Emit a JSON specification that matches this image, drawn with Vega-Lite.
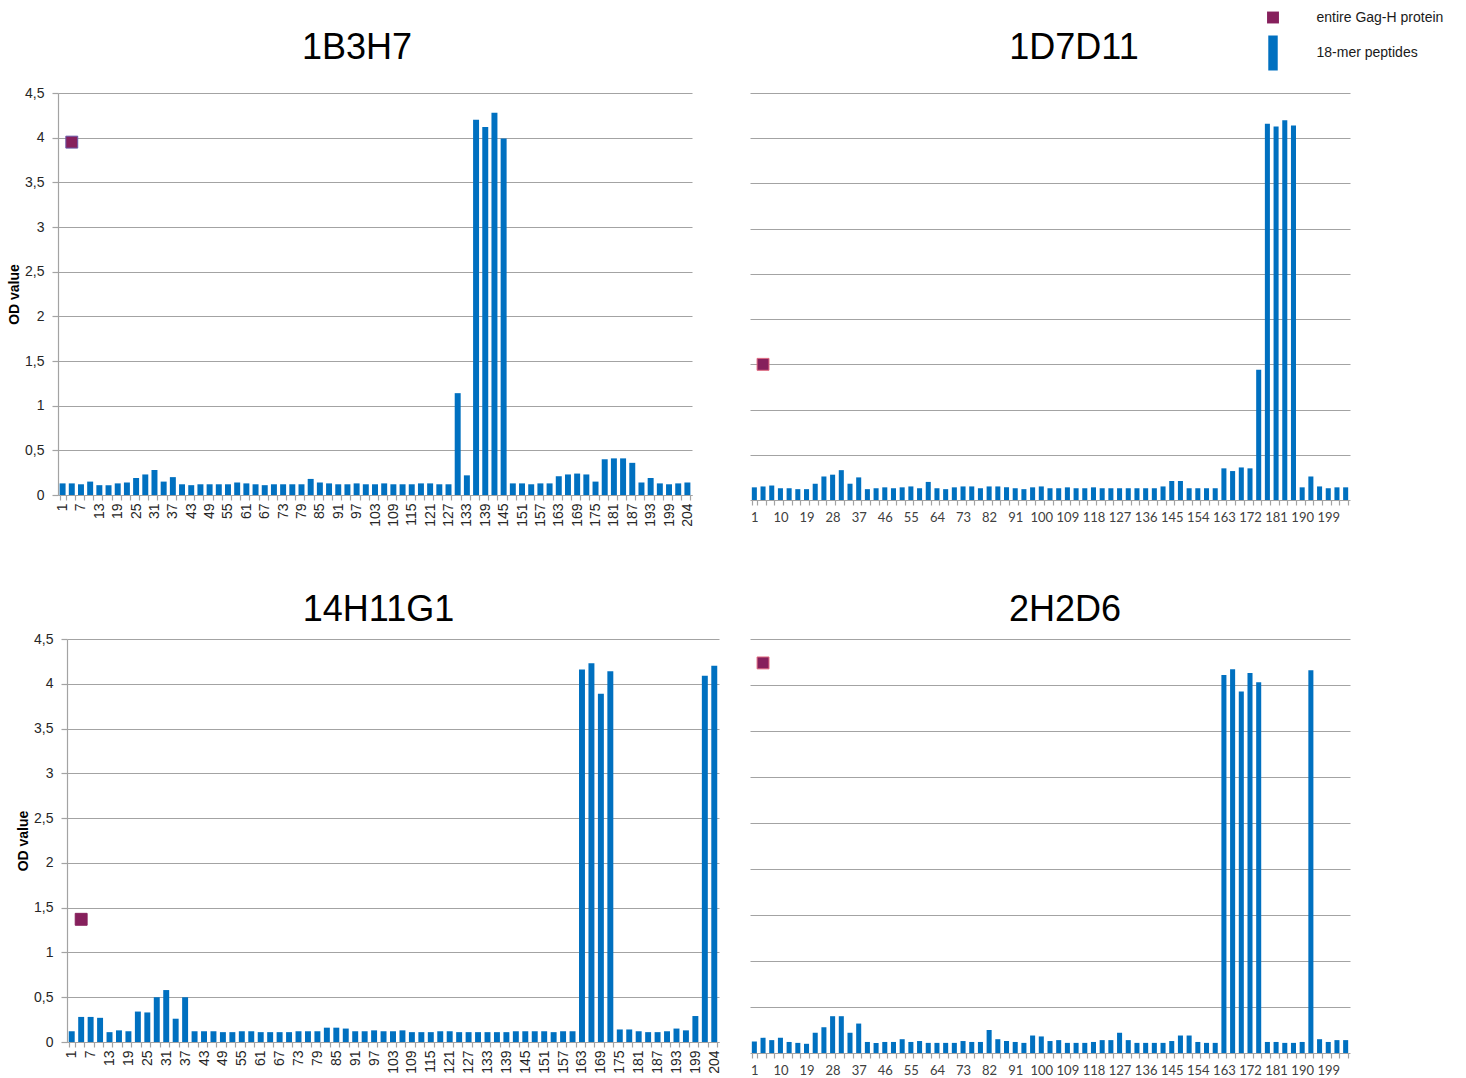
{
  "$schema": "https://vega.github.io/schema/vega-lite/v6.json",
  "background": "white",
  "padding": {"left": 7, "top": 0, "right": 0, "bottom": 0},
  "config": {
    "font": "Liberation Sans",
    "view": {"stroke": null},
    "axis": {"gridColor": "#a3a3a3", "gridWidth": 1.2, "domainColor": "#a3a3a3", "domainWidth": 1.2, "tickColor": "#a3a3a3", "tickWidth": 1.2, "labelColor": "#262626", "labelFont": "Liberation Sans"},
    "title": {"font": "Liberation Sans", "fontSize": 36, "fontWeight": "normal", "color": "#000000"},
    "legend": {"orient": "none", "legendX": 1197.5, "legendY": -93, "title": null, "labelFontSize": 14, "labelColor": "#1a1a1a", "labelOffset": 26, "rowPadding": 10.5, "symbolSize": 1225, "padding": 0, "symbolStrokeWidth": 0, "symbolOpacity": 1}
  },
  "datasets": {
    "pep1B3H7": [
      {"peptide":1,"od":0.13,"series":"18-mer peptides"},{"peptide":4,"od":0.13,"series":"18-mer peptides"},{"peptide":7,"od":0.12,"series":"18-mer peptides"},{"peptide":10,"od":0.15,"series":"18-mer peptides"},{"peptide":13,"od":0.11,"series":"18-mer peptides"},{"peptide":16,"od":0.11,"series":"18-mer peptides"},{"peptide":19,"od":0.13,"series":"18-mer peptides"},{"peptide":22,"od":0.14,"series":"18-mer peptides"},{"peptide":25,"od":0.19,"series":"18-mer peptides"},{"peptide":28,"od":0.23,"series":"18-mer peptides"},
      {"peptide":31,"od":0.28,"series":"18-mer peptides"},{"peptide":34,"od":0.15,"series":"18-mer peptides"},{"peptide":37,"od":0.20,"series":"18-mer peptides"},{"peptide":40,"od":0.12,"series":"18-mer peptides"},{"peptide":43,"od":0.11,"series":"18-mer peptides"},{"peptide":46,"od":0.12,"series":"18-mer peptides"},{"peptide":49,"od":0.12,"series":"18-mer peptides"},{"peptide":52,"od":0.12,"series":"18-mer peptides"},{"peptide":55,"od":0.12,"series":"18-mer peptides"},{"peptide":58,"od":0.14,"series":"18-mer peptides"},
      {"peptide":61,"od":0.13,"series":"18-mer peptides"},{"peptide":64,"od":0.12,"series":"18-mer peptides"},{"peptide":67,"od":0.11,"series":"18-mer peptides"},{"peptide":70,"od":0.12,"series":"18-mer peptides"},{"peptide":73,"od":0.12,"series":"18-mer peptides"},{"peptide":76,"od":0.12,"series":"18-mer peptides"},{"peptide":79,"od":0.12,"series":"18-mer peptides"},{"peptide":82,"od":0.18,"series":"18-mer peptides"},{"peptide":85,"od":0.14,"series":"18-mer peptides"},{"peptide":88,"od":0.13,"series":"18-mer peptides"},
      {"peptide":91,"od":0.12,"series":"18-mer peptides"},{"peptide":94,"od":0.12,"series":"18-mer peptides"},{"peptide":97,"od":0.13,"series":"18-mer peptides"},{"peptide":100,"od":0.12,"series":"18-mer peptides"},{"peptide":103,"od":0.12,"series":"18-mer peptides"},{"peptide":106,"od":0.13,"series":"18-mer peptides"},{"peptide":109,"od":0.12,"series":"18-mer peptides"},{"peptide":112,"od":0.12,"series":"18-mer peptides"},{"peptide":115,"od":0.12,"series":"18-mer peptides"},{"peptide":118,"od":0.13,"series":"18-mer peptides"},
      {"peptide":121,"od":0.13,"series":"18-mer peptides"},{"peptide":124,"od":0.12,"series":"18-mer peptides"},{"peptide":127,"od":0.12,"series":"18-mer peptides"},{"peptide":130,"od":1.14,"series":"18-mer peptides"},{"peptide":133,"od":0.22,"series":"18-mer peptides"},{"peptide":136,"od":4.20,"series":"18-mer peptides"},{"peptide":139,"od":4.12,"series":"18-mer peptides"},{"peptide":142,"od":4.28,"series":"18-mer peptides"},{"peptide":145,"od":3.99,"series":"18-mer peptides"},{"peptide":148,"od":0.13,"series":"18-mer peptides"},
      {"peptide":151,"od":0.13,"series":"18-mer peptides"},{"peptide":154,"od":0.12,"series":"18-mer peptides"},{"peptide":157,"od":0.13,"series":"18-mer peptides"},{"peptide":160,"od":0.13,"series":"18-mer peptides"},{"peptide":163,"od":0.21,"series":"18-mer peptides"},{"peptide":166,"od":0.23,"series":"18-mer peptides"},{"peptide":169,"od":0.24,"series":"18-mer peptides"},{"peptide":172,"od":0.23,"series":"18-mer peptides"},{"peptide":175,"od":0.15,"series":"18-mer peptides"},{"peptide":178,"od":0.40,"series":"18-mer peptides"},
      {"peptide":181,"od":0.41,"series":"18-mer peptides"},{"peptide":184,"od":0.41,"series":"18-mer peptides"},{"peptide":187,"od":0.36,"series":"18-mer peptides"},{"peptide":190,"od":0.14,"series":"18-mer peptides"},{"peptide":193,"od":0.19,"series":"18-mer peptides"},{"peptide":196,"od":0.13,"series":"18-mer peptides"},{"peptide":199,"od":0.12,"series":"18-mer peptides"},{"peptide":202,"od":0.13,"series":"18-mer peptides"},{"peptide":204,"od":0.14,"series":"18-mer peptides"}
    ],
    "pep1D7D11": [
      {"peptide":1,"od":0.14,"series":"18-mer peptides"},{"peptide":4,"od":0.15,"series":"18-mer peptides"},{"peptide":7,"od":0.16,"series":"18-mer peptides"},{"peptide":10,"od":0.13,"series":"18-mer peptides"},{"peptide":13,"od":0.13,"series":"18-mer peptides"},{"peptide":16,"od":0.12,"series":"18-mer peptides"},{"peptide":19,"od":0.12,"series":"18-mer peptides"},{"peptide":22,"od":0.18,"series":"18-mer peptides"},{"peptide":25,"od":0.26,"series":"18-mer peptides"},{"peptide":28,"od":0.28,"series":"18-mer peptides"},
      {"peptide":31,"od":0.33,"series":"18-mer peptides"},{"peptide":34,"od":0.18,"series":"18-mer peptides"},{"peptide":37,"od":0.25,"series":"18-mer peptides"},{"peptide":40,"od":0.12,"series":"18-mer peptides"},{"peptide":43,"od":0.13,"series":"18-mer peptides"},{"peptide":46,"od":0.14,"series":"18-mer peptides"},{"peptide":49,"od":0.13,"series":"18-mer peptides"},{"peptide":52,"od":0.14,"series":"18-mer peptides"},{"peptide":55,"od":0.15,"series":"18-mer peptides"},{"peptide":58,"od":0.13,"series":"18-mer peptides"},
      {"peptide":61,"od":0.20,"series":"18-mer peptides"},{"peptide":64,"od":0.13,"series":"18-mer peptides"},{"peptide":67,"od":0.12,"series":"18-mer peptides"},{"peptide":70,"od":0.14,"series":"18-mer peptides"},{"peptide":73,"od":0.15,"series":"18-mer peptides"},{"peptide":76,"od":0.15,"series":"18-mer peptides"},{"peptide":79,"od":0.13,"series":"18-mer peptides"},{"peptide":82,"od":0.15,"series":"18-mer peptides"},{"peptide":85,"od":0.15,"series":"18-mer peptides"},{"peptide":88,"od":0.14,"series":"18-mer peptides"},
      {"peptide":91,"od":0.13,"series":"18-mer peptides"},{"peptide":94,"od":0.12,"series":"18-mer peptides"},{"peptide":97,"od":0.14,"series":"18-mer peptides"},{"peptide":100,"od":0.15,"series":"18-mer peptides"},{"peptide":103,"od":0.13,"series":"18-mer peptides"},{"peptide":106,"od":0.13,"series":"18-mer peptides"},{"peptide":109,"od":0.14,"series":"18-mer peptides"},{"peptide":112,"od":0.13,"series":"18-mer peptides"},{"peptide":115,"od":0.13,"series":"18-mer peptides"},{"peptide":118,"od":0.14,"series":"18-mer peptides"},
      {"peptide":121,"od":0.13,"series":"18-mer peptides"},{"peptide":124,"od":0.13,"series":"18-mer peptides"},{"peptide":127,"od":0.13,"series":"18-mer peptides"},{"peptide":130,"od":0.13,"series":"18-mer peptides"},{"peptide":133,"od":0.13,"series":"18-mer peptides"},{"peptide":136,"od":0.13,"series":"18-mer peptides"},{"peptide":139,"od":0.13,"series":"18-mer peptides"},{"peptide":142,"od":0.15,"series":"18-mer peptides"},{"peptide":145,"od":0.21,"series":"18-mer peptides"},{"peptide":148,"od":0.21,"series":"18-mer peptides"},
      {"peptide":151,"od":0.13,"series":"18-mer peptides"},{"peptide":154,"od":0.13,"series":"18-mer peptides"},{"peptide":157,"od":0.13,"series":"18-mer peptides"},{"peptide":160,"od":0.13,"series":"18-mer peptides"},{"peptide":163,"od":0.35,"series":"18-mer peptides"},{"peptide":166,"od":0.32,"series":"18-mer peptides"},{"peptide":169,"od":0.36,"series":"18-mer peptides"},{"peptide":172,"od":0.35,"series":"18-mer peptides"},{"peptide":175,"od":1.44,"series":"18-mer peptides"},{"peptide":178,"od":4.16,"series":"18-mer peptides"},
      {"peptide":181,"od":4.13,"series":"18-mer peptides"},{"peptide":184,"od":4.20,"series":"18-mer peptides"},{"peptide":187,"od":4.14,"series":"18-mer peptides"},{"peptide":190,"od":0.14,"series":"18-mer peptides"},{"peptide":193,"od":0.26,"series":"18-mer peptides"},{"peptide":196,"od":0.15,"series":"18-mer peptides"},{"peptide":199,"od":0.13,"series":"18-mer peptides"},{"peptide":202,"od":0.14,"series":"18-mer peptides"},{"peptide":204,"od":0.14,"series":"18-mer peptides"}
    ],
    "pep14H11G1": [
      {"peptide":1,"od":0.12,"series":"18-mer peptides"},{"peptide":4,"od":0.28,"series":"18-mer peptides"},{"peptide":7,"od":0.28,"series":"18-mer peptides"},{"peptide":10,"od":0.27,"series":"18-mer peptides"},{"peptide":13,"od":0.11,"series":"18-mer peptides"},{"peptide":16,"od":0.13,"series":"18-mer peptides"},{"peptide":19,"od":0.12,"series":"18-mer peptides"},{"peptide":22,"od":0.34,"series":"18-mer peptides"},{"peptide":25,"od":0.33,"series":"18-mer peptides"},{"peptide":28,"od":0.50,"series":"18-mer peptides"},
      {"peptide":31,"od":0.58,"series":"18-mer peptides"},{"peptide":34,"od":0.26,"series":"18-mer peptides"},{"peptide":37,"od":0.50,"series":"18-mer peptides"},{"peptide":40,"od":0.12,"series":"18-mer peptides"},{"peptide":43,"od":0.12,"series":"18-mer peptides"},{"peptide":46,"od":0.12,"series":"18-mer peptides"},{"peptide":49,"od":0.11,"series":"18-mer peptides"},{"peptide":52,"od":0.11,"series":"18-mer peptides"},{"peptide":55,"od":0.12,"series":"18-mer peptides"},{"peptide":58,"od":0.12,"series":"18-mer peptides"},
      {"peptide":61,"od":0.11,"series":"18-mer peptides"},{"peptide":64,"od":0.11,"series":"18-mer peptides"},{"peptide":67,"od":0.11,"series":"18-mer peptides"},{"peptide":70,"od":0.11,"series":"18-mer peptides"},{"peptide":73,"od":0.12,"series":"18-mer peptides"},{"peptide":76,"od":0.12,"series":"18-mer peptides"},{"peptide":79,"od":0.12,"series":"18-mer peptides"},{"peptide":82,"od":0.16,"series":"18-mer peptides"},{"peptide":85,"od":0.16,"series":"18-mer peptides"},{"peptide":88,"od":0.15,"series":"18-mer peptides"},
      {"peptide":91,"od":0.12,"series":"18-mer peptides"},{"peptide":94,"od":0.12,"series":"18-mer peptides"},{"peptide":97,"od":0.13,"series":"18-mer peptides"},{"peptide":100,"od":0.12,"series":"18-mer peptides"},{"peptide":103,"od":0.12,"series":"18-mer peptides"},{"peptide":106,"od":0.13,"series":"18-mer peptides"},{"peptide":109,"od":0.11,"series":"18-mer peptides"},{"peptide":112,"od":0.11,"series":"18-mer peptides"},{"peptide":115,"od":0.11,"series":"18-mer peptides"},{"peptide":118,"od":0.12,"series":"18-mer peptides"},
      {"peptide":121,"od":0.12,"series":"18-mer peptides"},{"peptide":124,"od":0.11,"series":"18-mer peptides"},{"peptide":127,"od":0.11,"series":"18-mer peptides"},{"peptide":130,"od":0.11,"series":"18-mer peptides"},{"peptide":133,"od":0.11,"series":"18-mer peptides"},{"peptide":136,"od":0.11,"series":"18-mer peptides"},{"peptide":139,"od":0.11,"series":"18-mer peptides"},{"peptide":142,"od":0.12,"series":"18-mer peptides"},{"peptide":145,"od":0.12,"series":"18-mer peptides"},{"peptide":148,"od":0.12,"series":"18-mer peptides"},
      {"peptide":151,"od":0.12,"series":"18-mer peptides"},{"peptide":154,"od":0.11,"series":"18-mer peptides"},{"peptide":157,"od":0.12,"series":"18-mer peptides"},{"peptide":160,"od":0.12,"series":"18-mer peptides"},{"peptide":163,"od":4.16,"series":"18-mer peptides"},{"peptide":166,"od":4.23,"series":"18-mer peptides"},{"peptide":169,"od":3.89,"series":"18-mer peptides"},{"peptide":172,"od":4.14,"series":"18-mer peptides"},{"peptide":175,"od":0.14,"series":"18-mer peptides"},{"peptide":178,"od":0.14,"series":"18-mer peptides"},
      {"peptide":181,"od":0.12,"series":"18-mer peptides"},{"peptide":184,"od":0.11,"series":"18-mer peptides"},{"peptide":187,"od":0.11,"series":"18-mer peptides"},{"peptide":190,"od":0.12,"series":"18-mer peptides"},{"peptide":193,"od":0.15,"series":"18-mer peptides"},{"peptide":196,"od":0.13,"series":"18-mer peptides"},{"peptide":199,"od":0.29,"series":"18-mer peptides"},{"peptide":202,"od":4.09,"series":"18-mer peptides"},{"peptide":204,"od":4.20,"series":"18-mer peptides"}
    ],
    "pep2H2D6": [
      {"peptide":1,"od":0.125,"series":"18-mer peptides"},{"peptide":4,"od":0.165,"series":"18-mer peptides"},{"peptide":7,"od":0.14,"series":"18-mer peptides"},{"peptide":10,"od":0.165,"series":"18-mer peptides"},{"peptide":13,"od":0.12,"series":"18-mer peptides"},{"peptide":16,"od":0.11,"series":"18-mer peptides"},{"peptide":19,"od":0.10,"series":"18-mer peptides"},{"peptide":22,"od":0.22,"series":"18-mer peptides"},{"peptide":25,"od":0.28,"series":"18-mer peptides"},{"peptide":28,"od":0.40,"series":"18-mer peptides"},
      {"peptide":31,"od":0.40,"series":"18-mer peptides"},{"peptide":34,"od":0.22,"series":"18-mer peptides"},{"peptide":37,"od":0.32,"series":"18-mer peptides"},{"peptide":40,"od":0.12,"series":"18-mer peptides"},{"peptide":43,"od":0.11,"series":"18-mer peptides"},{"peptide":46,"od":0.12,"series":"18-mer peptides"},{"peptide":49,"od":0.12,"series":"18-mer peptides"},{"peptide":52,"od":0.15,"series":"18-mer peptides"},{"peptide":55,"od":0.12,"series":"18-mer peptides"},{"peptide":58,"od":0.13,"series":"18-mer peptides"},
      {"peptide":61,"od":0.11,"series":"18-mer peptides"},{"peptide":64,"od":0.11,"series":"18-mer peptides"},{"peptide":67,"od":0.11,"series":"18-mer peptides"},{"peptide":70,"od":0.11,"series":"18-mer peptides"},{"peptide":73,"od":0.13,"series":"18-mer peptides"},{"peptide":76,"od":0.12,"series":"18-mer peptides"},{"peptide":79,"od":0.12,"series":"18-mer peptides"},{"peptide":82,"od":0.25,"series":"18-mer peptides"},{"peptide":85,"od":0.15,"series":"18-mer peptides"},{"peptide":88,"od":0.13,"series":"18-mer peptides"},
      {"peptide":91,"od":0.12,"series":"18-mer peptides"},{"peptide":94,"od":0.11,"series":"18-mer peptides"},{"peptide":97,"od":0.19,"series":"18-mer peptides"},{"peptide":100,"od":0.18,"series":"18-mer peptides"},{"peptide":103,"od":0.13,"series":"18-mer peptides"},{"peptide":106,"od":0.14,"series":"18-mer peptides"},{"peptide":109,"od":0.11,"series":"18-mer peptides"},{"peptide":112,"od":0.11,"series":"18-mer peptides"},{"peptide":115,"od":0.11,"series":"18-mer peptides"},{"peptide":118,"od":0.12,"series":"18-mer peptides"},
      {"peptide":121,"od":0.14,"series":"18-mer peptides"},{"peptide":124,"od":0.14,"series":"18-mer peptides"},{"peptide":127,"od":0.22,"series":"18-mer peptides"},{"peptide":130,"od":0.14,"series":"18-mer peptides"},{"peptide":133,"od":0.11,"series":"18-mer peptides"},{"peptide":136,"od":0.11,"series":"18-mer peptides"},{"peptide":139,"od":0.11,"series":"18-mer peptides"},{"peptide":142,"od":0.11,"series":"18-mer peptides"},{"peptide":145,"od":0.13,"series":"18-mer peptides"},{"peptide":148,"od":0.19,"series":"18-mer peptides"},
      {"peptide":151,"od":0.19,"series":"18-mer peptides"},{"peptide":154,"od":0.12,"series":"18-mer peptides"},{"peptide":157,"od":0.11,"series":"18-mer peptides"},{"peptide":160,"od":0.11,"series":"18-mer peptides"},{"peptide":163,"od":4.11,"series":"18-mer peptides"},{"peptide":166,"od":4.17,"series":"18-mer peptides"},{"peptide":169,"od":3.93,"series":"18-mer peptides"},{"peptide":172,"od":4.13,"series":"18-mer peptides"},{"peptide":175,"od":4.03,"series":"18-mer peptides"},{"peptide":178,"od":0.12,"series":"18-mer peptides"},
      {"peptide":181,"od":0.12,"series":"18-mer peptides"},{"peptide":184,"od":0.11,"series":"18-mer peptides"},{"peptide":187,"od":0.11,"series":"18-mer peptides"},{"peptide":190,"od":0.12,"series":"18-mer peptides"},{"peptide":193,"od":4.16,"series":"18-mer peptides"},{"peptide":196,"od":0.15,"series":"18-mer peptides"},{"peptide":199,"od":0.12,"series":"18-mer peptides"},{"peptide":202,"od":0.14,"series":"18-mer peptides"},{"peptide":204,"od":0.14,"series":"18-mer peptides"}
    ],
    "prot1B3H7": [{"peptide":4,"od":3.95,"series":"entire Gag-H protein"}],
    "prot1D7D11": [{"peptide":4,"od":1.5,"series":"entire Gag-H protein"}],
    "prot14H11G1": [{"peptide":4,"od":1.37,"series":"entire Gag-H protein"}],
    "prot2H2D6": [{"peptide":4,"od":4.24,"series":"entire Gag-H protein"}]
  },
  "spacing": 65,
  "vconcat": [
    {
      "spacing": 55,
      "hconcat": [
        {
          "width": 634, "height": 402,
          "title": {"text": "1B3H7", "dx": -18, "offset": 19},
          "encoding": {
            "x": {"field": "peptide", "type": "ordinal", "scale": {"paddingInner": 0.35, "paddingOuter": 0.175},
                  "axis": {"title": null, "labelAngle": 270, "labelExpr": "(datum.value - 1) % 6 == 0 || datum.value == 204 ? datum.label : ''", "labelOverlap": false, "labelFontSize": 14, "labelPadding": 3, "tickBand": "extent", "tickSize": 5}},
            "y": {"field": "od", "type": "quantitative", "scale": {"domain": [0, 4.5], "nice": false},
                  "axis": {"title": "OD value", "titleFontSize": 14, "titleFontWeight": "bold", "titleColor": "#000000", "titlePadding": 3, "values": [0, 0.5, 1, 1.5, 2, 2.5, 3, 3.5, 4, 4.5], "labelExpr": "replace(format(datum.value, '~g'), '.', ',')", "labelFontSize": 14, "labelPadding": 8, "tickSize": 6, "grid": true}}
          },
          "layer": [
            {"data": {"name": "pep1B3H7"}, "mark": {"type": "bar"},
             "encoding": {"color": {"field": "series", "type": "nominal", "scale": {"domain": ["entire Gag-H protein", "18-mer peptides"], "range": ["#86205C", "#0070C0"]}}}},
            {"data": {"name": "prot1B3H7"}, "mark": {"type": "point", "filled": true, "size": 1225, "opacity": 1, "stroke": "#6a5aa8", "strokeWidth": 1},
             "encoding": {"color": {"field": "series", "type": "nominal", "scale": {"domain": ["entire Gag-H protein", "18-mer peptides"], "range": ["#86205C", "#0070C0"]}},
                          "shape": {"field": "series", "type": "nominal", "scale": {"domain": ["entire Gag-H protein", "18-mer peptides"], "range": ["M-0.34,-0.34H0.34V0.34H-0.34Z", "M-0.27,-1H0.27V1H-0.27Z"]}}}}
          ]
        },
        {
          "width": 600, "height": 407,
          "title": {"text": "1D7D11", "dx": 24, "offset": 26},
          "encoding": {
            "x": {"field": "peptide", "type": "ordinal", "scale": {"paddingInner": 0.42, "paddingOuter": 0.21},
                  "axis": {"title": null, "labelAngle": 0, "labelExpr": "(datum.value - 1) % 9 == 0 ? datum.label : ''", "labelOverlap": false, "labelFont": "Lato", "labelFontSize": 13, "labelColor": "#404040", "labelPadding": 6, "tickBand": "extent", "tickSize": 5}},
            "y": {"field": "od", "type": "quantitative", "scale": {"domain": [0, 4.5], "nice": false},
                  "axis": {"title": null, "labels": false, "ticks": false, "domain": false, "grid": true, "values": [0.5, 1, 1.5, 2, 2.5, 3, 3.5, 4, 4.5]}}
          },
          "layer": [
            {"data": {"name": "pep1D7D11"}, "mark": {"type": "bar"},
             "encoding": {"color": {"field": "series", "type": "nominal", "scale": {"domain": ["entire Gag-H protein", "18-mer peptides"], "range": ["#86205C", "#0070C0"]}}}},
            {"data": {"name": "prot1D7D11"}, "mark": {"type": "point", "filled": true, "size": 1225, "opacity": 1, "stroke": "#e06a80", "strokeWidth": 1},
             "encoding": {"color": {"field": "series", "type": "nominal", "scale": {"domain": ["entire Gag-H protein", "18-mer peptides"], "range": ["#86205C", "#0070C0"]}},
                          "shape": {"field": "series", "type": "nominal", "scale": {"domain": ["entire Gag-H protein", "18-mer peptides"], "range": ["M-0.34,-0.34H0.34V0.34H-0.34Z", "M-0.27,-1H0.27V1H-0.27Z"]}}}}
          ]
        }
      ]
    },
    {
      "spacing": 28,
      "hconcat": [
        {
          "width": 661, "height": 403,
          "title": {"text": "14H11G1", "dx": -10, "offset": 3},
          "encoding": {
            "x": {"field": "peptide", "type": "ordinal", "scale": {"range": [9, 661], "paddingInner": 0.37, "paddingOuter": 0.185},
                  "axis": {"title": null, "labelAngle": 270, "labelExpr": "(datum.value - 1) % 6 == 0 || datum.value == 204 ? datum.label : ''", "labelOverlap": false, "labelFontSize": 14, "labelPadding": 3, "tickBand": "extent", "tickSize": 5}},
            "y": {"field": "od", "type": "quantitative", "scale": {"domain": [0, 4.5], "nice": false},
                  "axis": {"offset": -9, "title": "OD value", "titleFontSize": 14, "titleFontWeight": "bold", "titleColor": "#000000", "titlePadding": 3, "values": [0, 0.5, 1, 1.5, 2, 2.5, 3, 3.5, 4, 4.5], "labelExpr": "replace(format(datum.value, '~g'), '.', ',')", "labelFontSize": 14, "labelPadding": 8, "tickSize": 6, "grid": true}}
          },
          "layer": [
            {"data": {"name": "pep14H11G1"}, "mark": {"type": "bar"},
             "encoding": {"color": {"field": "series", "type": "nominal", "scale": {"domain": ["entire Gag-H protein", "18-mer peptides"], "range": ["#86205C", "#0070C0"]}}}},
            {"data": {"name": "prot14H11G1"}, "mark": {"type": "point", "filled": true, "size": 1225, "opacity": 1, "stroke": "#86205C", "strokeWidth": 1},
             "encoding": {"color": {"field": "series", "type": "nominal", "scale": {"domain": ["entire Gag-H protein", "18-mer peptides"], "range": ["#86205C", "#0070C0"]}},
                          "shape": {"field": "series", "type": "nominal", "scale": {"domain": ["entire Gag-H protein", "18-mer peptides"], "range": ["M-0.34,-0.34H0.34V0.34H-0.34Z", "M-0.27,-1H0.27V1H-0.27Z"]}}}}
          ]
        },
        {
          "width": 600, "height": 414,
          "title": {"text": "2H2D6", "dx": 15, "offset": 10},
          "encoding": {
            "x": {"field": "peptide", "type": "ordinal", "scale": {"paddingInner": 0.42, "paddingOuter": 0.21},
                  "axis": {"title": null, "labelAngle": 0, "labelExpr": "(datum.value - 1) % 9 == 0 ? datum.label : ''", "labelOverlap": false, "labelFont": "Lato", "labelFontSize": 13, "labelColor": "#404040", "labelPadding": 6, "tickBand": "extent", "tickSize": 5}},
            "y": {"field": "od", "type": "quantitative", "scale": {"domain": [0, 4.5], "nice": false},
                  "axis": {"title": null, "labels": false, "ticks": false, "domain": false, "grid": true, "values": [0.5, 1, 1.5, 2, 2.5, 3, 3.5, 4, 4.5]}}
          },
          "layer": [
            {"data": {"name": "pep2H2D6"}, "mark": {"type": "bar"},
             "encoding": {"color": {"field": "series", "type": "nominal", "scale": {"domain": ["entire Gag-H protein", "18-mer peptides"], "range": ["#86205C", "#0070C0"]}}}},
            {"data": {"name": "prot2H2D6"}, "mark": {"type": "point", "filled": true, "size": 1225, "opacity": 1, "stroke": "#e06a80", "strokeWidth": 1},
             "encoding": {"color": {"field": "series", "type": "nominal", "scale": {"domain": ["entire Gag-H protein", "18-mer peptides"], "range": ["#86205C", "#0070C0"]}},
                          "shape": {"field": "series", "type": "nominal", "scale": {"domain": ["entire Gag-H protein", "18-mer peptides"], "range": ["M-0.34,-0.34H0.34V0.34H-0.34Z", "M-0.27,-1H0.27V1H-0.27Z"]}}}}
          ]
        }
      ]
    }
  ]
}
